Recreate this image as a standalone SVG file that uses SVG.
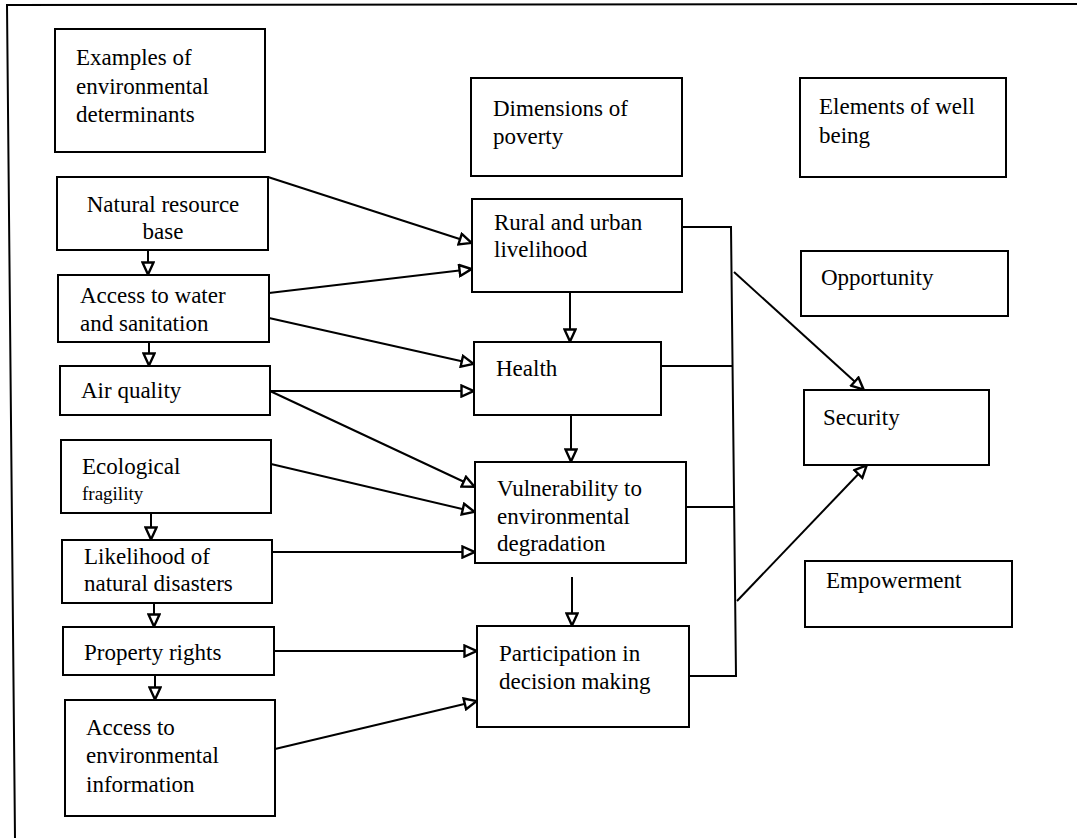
<svg xmlns="http://www.w3.org/2000/svg" width="1077" height="838" viewBox="0 0 1077 838">
  <style>
    .box { fill: #ffffff; stroke: #000000; stroke-width: 2; }
    .lbl { font-family: "Liberation Serif", "Times New Roman", serif; font-size: 23px; fill: #000000; }
    .sm { font-size: 19px; }
    .ln { fill: none; stroke: #000000; stroke-width: 2; }
    .arr { fill: none; stroke: #000000; stroke-width: 2; marker-end: url(#tri); }
    .frame { fill: none; stroke: #000000; stroke-width: 2; }
  </style>
  <defs>
    <!-- open triangular arrowhead -->
    <marker id="tri" viewBox="0 0 15 14" refX="14" refY="7" markerWidth="15" markerHeight="14" markerUnits="userSpaceOnUse" orient="auto">
      <path d="M1.5,1.5 L13.5,7 L1.5,12.5 Z" fill="#ffffff" stroke="#000000" stroke-width="2.4" stroke-linejoin="miter"/>
    </marker>
  </defs>
  <rect width="1077" height="838" fill="#ffffff"/>

  <!-- page frame (top and left edges only) -->
  <path class="frame" d="M6,5 L1077,4 M7,5 L15,838"/>

  <!-- connectors -->
  <g id="connectors">
    <!-- determinants to dimensions -->
    <path class="arr" d="M268,177 L472,243"/>
    <path class="arr" d="M269,293 L472,269"/>
    <path class="arr" d="M269,318 L474,364"/>
    <path class="arr" d="M270,391 L474,391"/>
    <path class="arr" d="M270,391 L475,487"/>
    <path class="arr" d="M271,464 L475,512"/>
    <path class="arr" d="M272,552 L475,552"/>
    <path class="arr" d="M274,651 L477,651"/>
    <path class="arr" d="M275,749 L477,701"/>
    <!-- chain within determinants -->
    <path class="arr" d="M148,250 L148,275"/>
    <path class="arr" d="M149,342 L149,366"/>
    <path class="arr" d="M151,513 L151,540"/>
    <path class="arr" d="M154,603 L154,627"/>
    <path class="arr" d="M155,675 L155,700"/>
    <!-- chain within dimensions -->
    <path class="arr" d="M570,292 L570,342"/>
    <path class="arr" d="M571,415 L571,462"/>
    <path class="arr" d="M572,577 L572,626"/>
    <!-- collector bus -->
    <path class="ln" d="M682,227 L731,227 L736,676 L689,676"/>
    <path class="ln" d="M661,366 L733,366"/>
    <path class="ln" d="M686,507 L734,507"/>
    <!-- bus to security -->
    <path class="arr" d="M734,272 L864,390"/>
    <path class="arr" d="M737,601 L867,465"/>
  </g>

  <!-- left column: environmental determinants -->
  <g id="n-examples">
    <rect class="box" x="55" y="29" width="210" height="123"/>
    <text class="lbl" x="76" y="65">Examples of</text>
    <text class="lbl" x="76" y="94">environmental</text>
    <text class="lbl" x="76" y="122">determinants</text>
  </g>
  <g id="n-natural">
    <rect class="box" x="57" y="177" width="211" height="73"/>
    <text class="lbl" x="163" y="212" text-anchor="middle">Natural resource</text>
    <text class="lbl" x="163" y="239" text-anchor="middle">base</text>
  </g>
  <g id="n-water">
    <rect class="box" x="58" y="275" width="211" height="67"/>
    <text class="lbl" x="80" y="303">Access to water</text>
    <text class="lbl" x="80" y="331">and sanitation</text>
  </g>
  <g id="n-air">
    <rect class="box" x="60" y="366" width="210" height="49"/>
    <text class="lbl" x="81" y="398">Air quality</text>
  </g>
  <g id="n-eco">
    <rect class="box" x="61" y="440" width="210" height="73"/>
    <text class="lbl" x="82" y="474">Ecological</text>
    <text class="lbl sm" x="82" y="500">fragility</text>
  </g>
  <g id="n-disasters">
    <rect class="box" x="62" y="540" width="210" height="63"/>
    <text class="lbl" x="84" y="564">Likelihood of</text>
    <text class="lbl" x="84" y="591">natural disasters</text>
  </g>
  <g id="n-property">
    <rect class="box" x="63" y="627" width="211" height="48"/>
    <text class="lbl" x="84" y="660">Property rights</text>
  </g>
  <g id="n-info">
    <rect class="box" x="65" y="700" width="210" height="116"/>
    <text class="lbl" x="86" y="735">Access to</text>
    <text class="lbl" x="86" y="763">environmental</text>
    <text class="lbl" x="86" y="792">information</text>
  </g>

  <!-- middle column: dimensions of poverty -->
  <g id="n-dimensions">
    <rect class="box" x="471" y="78" width="211" height="98"/>
    <text class="lbl" x="493" y="116">Dimensions of</text>
    <text class="lbl" x="493" y="144">poverty</text>
  </g>
  <g id="n-livelihood">
    <rect class="box" x="472" y="199" width="210" height="93"/>
    <text class="lbl" x="494" y="230">Rural and urban</text>
    <text class="lbl" x="494" y="257">livelihood</text>
  </g>
  <g id="n-health">
    <rect class="box" x="474" y="342" width="187" height="73"/>
    <text class="lbl" x="496" y="376">Health</text>
  </g>
  <g id="n-vulnerability">
    <rect class="box" x="475" y="462" width="211" height="101"/>
    <text class="lbl" x="497" y="496">Vulnerability to</text>
    <text class="lbl" x="497" y="524">environmental</text>
    <text class="lbl" x="497" y="551">degradation</text>
  </g>
  <g id="n-participation">
    <rect class="box" x="477" y="626" width="212" height="101"/>
    <text class="lbl" x="499" y="661">Participation in</text>
    <text class="lbl" x="499" y="689">decision making</text>
  </g>

  <!-- right column: elements of well being -->
  <g id="n-elements">
    <rect class="box" x="800" y="78" width="206" height="99"/>
    <text class="lbl" x="819" y="114">Elements of well</text>
    <text class="lbl" x="819" y="143">being</text>
  </g>
  <g id="n-opportunity">
    <rect class="box" x="801" y="251" width="207" height="65"/>
    <text class="lbl" x="821" y="285">Opportunity</text>
  </g>
  <g id="n-security">
    <rect class="box" x="804" y="390" width="185" height="75"/>
    <text class="lbl" x="823" y="425">Security</text>
  </g>
  <g id="n-empowerment">
    <rect class="box" x="805" y="561" width="207" height="66"/>
    <text class="lbl" x="826" y="588">Empowerment</text>
  </g>
</svg>
